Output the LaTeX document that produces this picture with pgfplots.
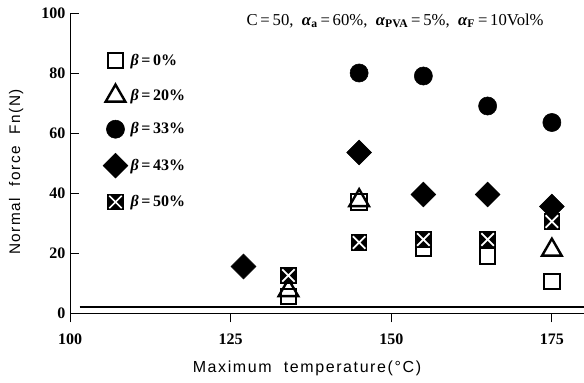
\documentclass[border=0pt]{standalone}
\usepackage{fontspec}
\setmainfont{Liberation Serif}
\newfontfamily\lsans{Liberation Sans}[LetterSpace=10]
\usepackage{pgfplots}
\pgfplotsset{compat=1.18}
\usetikzlibrary{calc}
\pgfdeclareplotmark{xbox}{%
  \pgfpathrectangle{\pgfqpoint{-\pgfplotmarksize}{-\pgfplotmarksize}}{\pgfqpoint{2\pgfplotmarksize}{2\pgfplotmarksize}}%
  \pgfusepathqfill
  \pgfsetstrokecolor{white}\pgfsetlinewidth{1.3pt}%
  \pgfpathmoveto{\pgfqpoint{-.75\pgfplotmarksize}{-.75\pgfplotmarksize}}%
  \pgfpathlineto{\pgfqpoint{.75\pgfplotmarksize}{.75\pgfplotmarksize}}%
  \pgfpathmoveto{\pgfqpoint{-.75\pgfplotmarksize}{.75\pgfplotmarksize}}%
  \pgfpathlineto{\pgfqpoint{.75\pgfplotmarksize}{-.75\pgfplotmarksize}}%
  \pgfusepathqstroke
}
\begin{document}
\begin{tikzpicture}
\begin{axis}[name=ax, scale only axis, width=385.5pt, height=225pt,
  xmin=100, xmax=180, ymin=0, ymax=100,
  axis x line*=bottom, axis y line*=left,
  axis line style={black, line width=0.7pt},
  xtick={100,125,150,175}, ytick={0,20,40,60,80,100},
  xtick align=outside, ytick align=inside,
  major tick length=7pt,
  tick style={black, line width=0.7pt},
  /pgf/number format/assume math mode=true,
  tick label style={font=\fontsize{12}{13}\selectfont\bfseries},
  xticklabel style={yshift=-5pt},
  clip=false,
  xlabel={\lsans\fontsize{12}{13}\selectfont Maximum\ \ temperature(\textdegree C)},
  ylabel={\lsans\fontsize{11.5}{13}\selectfont Normal\ \ force\ \ Fn(N)},
  x label style={at={(axis description cs:0.461,-0.183)}, anchor=center},
  y label style={at={(axis description cs:-0.105,0.47)}, anchor=center, rotate=0},
  legend style={draw=none, fill=none, at={(axis description cs:0.056,0.882)}, anchor=north west,
    font=\fontsize{12}{13}\selectfont\bfseries, row sep=11pt},
  legend cell align=left,
]
\addplot[black, line width=2pt, no markers, forget plot] coordinates {(101.5,2) (180,2)};
\addplot[only marks, mark=square, mark size=5.8pt, mark options={black, line width=1.6pt, fill=white}]
  coordinates {(134,5.5) (145,37) (155,21.5) (165,19) (175,10.5)};
\addlegendentry{\textit{β}\,=\,0\%}
\addplot[only marks, mark=triangle, mark size=8.5pt, mark options={black, line width=1.8pt, fill=white}]
  coordinates {(134,7.5) (145,37.5) (175,21)};
\addlegendentry{\textit{β}\,=\,20\%}
\addplot[only marks, mark=*, mark size=6.8pt, mark options={black, fill=black}]
  coordinates {(145,80) (155,79) (165,69) (175,63.5)};
\addlegendentry{\textit{β}\,=\,33\%}
\addplot[only marks, mark=square*, mark size=6.6pt, mark options={black, fill=black, rotate=45}]
  coordinates {(127,15.5) (145,53.5) (155,39.5) (165,39.5) (175,35.5)};
\addlegendentry{\textit{β}\,=\,43\%}
\addplot[only marks, mark=xbox, mark size=6.2pt, mark options={black, fill=black}]
  coordinates {(134,12.5) (145,23.5) (155,24.5) (165,24.5) (175,30.5)};
\addlegendentry{\textit{β}\,=\,50\%}
\node[anchor=center, font=\fontsize{12.5}{14}\selectfont] at (axis cs:150.6,97.3)
  {C\,=\,50,\ \ \textbf{\textit{α}}\textsubscript{\textbf{a}}\,=\,60\%,\ \ \textbf{\textit{α}}\textsubscript{\textbf{PVA}}\,=\,5\%,\ \ \textbf{\textit{α}}\textsubscript{\textbf{F}}\,=\,10Vol\%};
\end{axis}
\pgfresetboundingbox
\path[use as bounding box] ($(ax.south west)+(-52.5pt,-51.75pt)$) rectangle ($(ax.north east)+(0pt,9.75pt)$);
\end{tikzpicture}
\end{document}
